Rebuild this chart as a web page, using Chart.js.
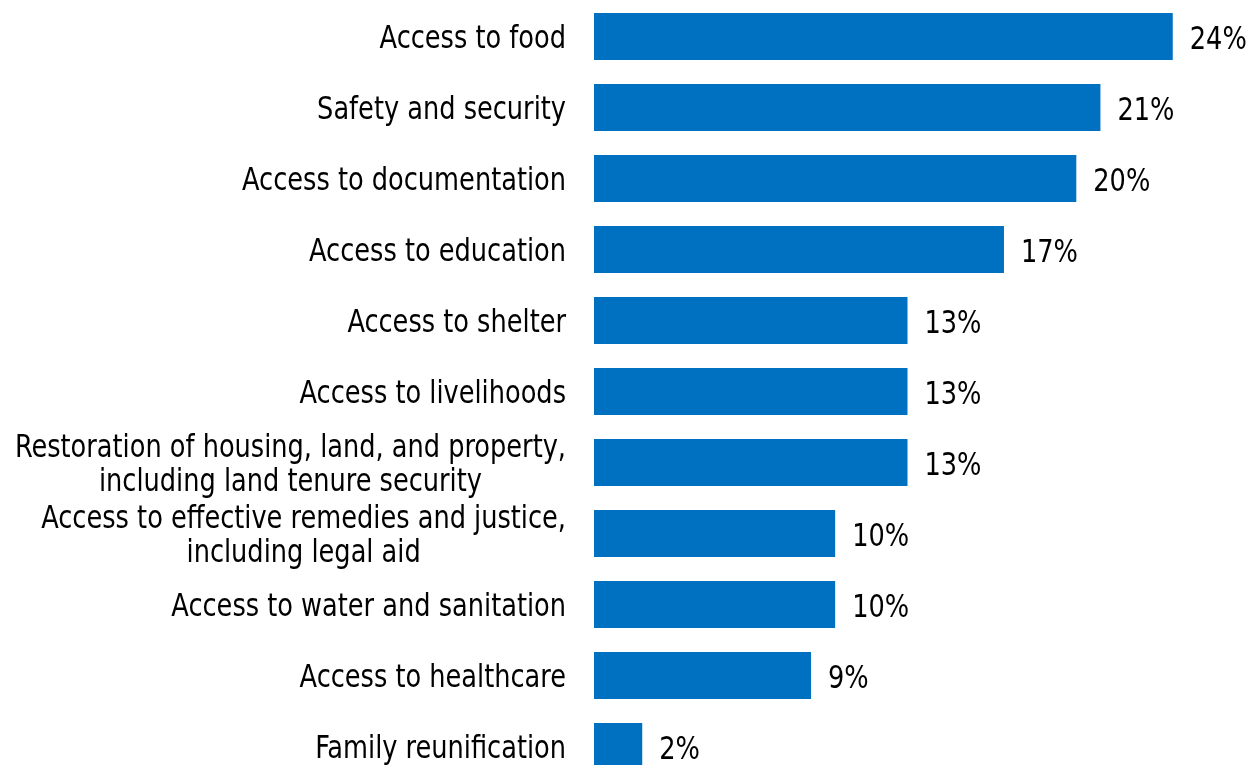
<!DOCTYPE html>
<html>
<head>
<meta charset="utf-8">
<script src="https://cdn.jsdelivr.net/npm/chart.js@4.4.1/dist/chart.umd.min.js"></script>
<style>
    html, body { margin: 0; padding: 0; background: #fff; overflow: hidden; }
    #wrap { width: 1257px; height: 785px; }
</style>
</head>
<body>
<div id="wrap"><canvas id="barChart" width="1257" height="785"></canvas></div>
<script>
// data
const categories = [
    'Access to food',
    'Safety and security',
    'Access to documentation',
    'Access to education',
    'Access to shelter',
    'Access to livelihoods',
    ['Restoration of housing, land, and property,', 'including land tenure security'],
    ['Access to effective remedies and justice,', 'including legal aid'],
    'Access to water and sanitation',
    'Access to healthcare',
    'Family reunification'
]
const shares = [24, 21, 20, 17, 13, 13, 13, 10, 10, 9, 2]

const FONT_SIZE = 28.5
const STRETCH = 1.12 // huruf di gambar asli agak tinggi/sempit
const FONT = FONT_SIZE + 'px "DejaVu Sans Condensed", "DejaVu Sans", sans-serif'
const BAR_COLOR = '#0070C0'

;(function () {
    const capOffset = FONT_SIZE * 0.365 * STRETCH

    function drawText(ctx, text, x, y) {
        ctx.save()
        ctx.translate(x, y)
        ctx.scale(1, STRETCH)
        ctx.fillText(text, 0, 0)
        ctx.restore()
    }

    // label kategori (blok rata kanan, baris di tengah)
    const categoryLabels = {
        id: 'categoryLabels',
        afterDraw(chart) {
            const ctx = chart.ctx
            const yScale = chart.scales.y
            const right = chart.chartArea.left - 28
            const lineH = 34

            ctx.save()
            ctx.font = FONT
            ctx.fillStyle = '#000'
            ctx.textBaseline = 'alphabetic'
            ctx.textAlign = 'center'

            categories.forEach((label, i) => {
                const lines = Array.isArray(label) ? label : [label]
                const blockW = Math.max(...lines.map((l) => ctx.measureText(l).width))
                const cx = right - blockW / 2
                const cy = yScale.getPixelForValue(i)
                const top = cy - ((lines.length - 1) * lineH) / 2
                lines.forEach((l, j) => {
                    drawText(ctx, l, cx, top + j * lineH + capOffset)
                })
            })
            ctx.restore()
        }
    }

    // label nilai di ujung bar
    const valueLabels = {
        id: 'valueLabels',
        afterDatasetsDraw(chart) {
            const ctx = chart.ctx
            const meta = chart.getDatasetMeta(0)

            ctx.save()
            ctx.font = FONT
            ctx.fillStyle = '#000'
            ctx.textBaseline = 'alphabetic'
            ctx.textAlign = 'left'
            meta.data.forEach((bar, i) => {
                drawText(ctx, shares[i] + '%', bar.x + 17, bar.y + capOffset + 1)
            })
            ctx.restore()
        }
    }

    new Chart(document.getElementById('barChart'), {
        type: 'bar',
        data: {
            labels: categories,
            datasets: [
                {
                    data: shares,
                    backgroundColor: BAR_COLOR,
                    borderWidth: 0,
                    categoryPercentage: 1,
                    barPercentage: 0.662
                }
            ]
        },
        options: {
            indexAxis: 'y',
            responsive: false,
            animation: false,
            layout: {
                padding: { top: 1, right: 36, bottom: 3, left: 0 }
            },
            plugins: {
                legend: { display: false },
                tooltip: { enabled: false }
            },
            scales: {
                x: {
                    display: false,
                    min: 0,
                    max: 26
                },
                y: {
                    grid: { display: false, drawTicks: false },
                    border: { display: false },
                    ticks: { display: false },
                    afterFit: (scale) => {
                        scale.width = 594
                    }
                }
            }
        },
        plugins: [categoryLabels, valueLabels]
    })
})()
</script>
</body>
</html>
